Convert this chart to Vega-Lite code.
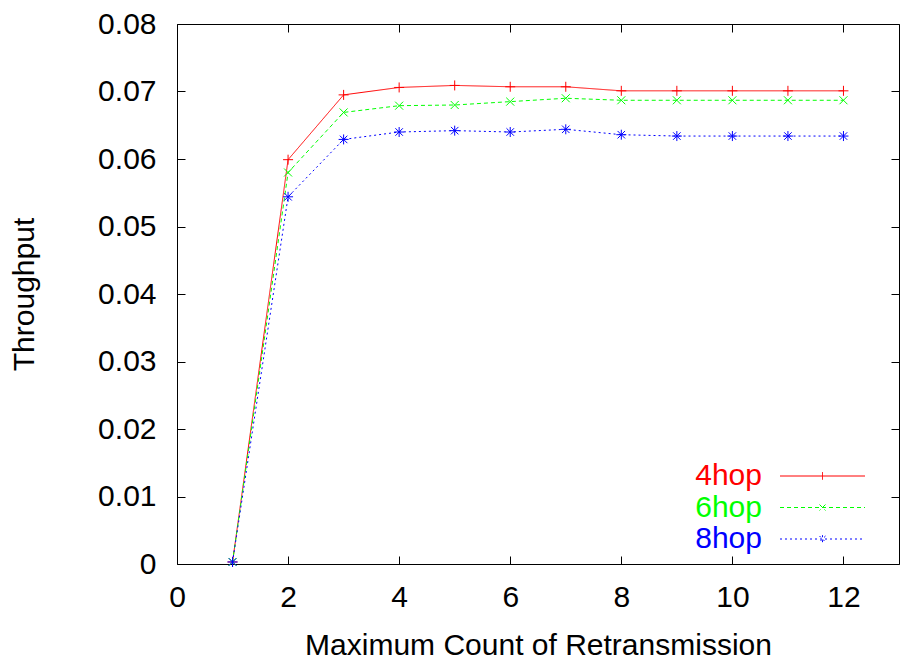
{
  "$schema": "https://vega.github.io/schema/vega-lite/v6.json",
  "width": 722,
  "height": 540,
  "autosize": {"type": "none"},
  "padding": {"left": 177, "top": 24, "right": 1, "bottom": 97},
  "background": "white",
  "config": {
    "font": "Liberation Sans",
    "view": {"stroke": "black", "strokeWidth": 1},
    "axis": {"grid": false, "domain": false, "tickColor": "black", "labelColor": "black", "titleColor": "black", "labelFontSize": 30, "titleFontSize": 30, "titleFontWeight": "normal", "labelFont": "Liberation Sans", "titleFont": "Liberation Sans"}
  },
  "data": {"values": [
    {"count": 1, "throughput": 0.0003, "series": "4hop"},
    {"count": 2, "throughput": 0.0599, "series": "4hop"},
    {"count": 3, "throughput": 0.0695, "series": "4hop"},
    {"count": 4, "throughput": 0.0706, "series": "4hop"},
    {"count": 5, "throughput": 0.0709, "series": "4hop"},
    {"count": 6, "throughput": 0.0707, "series": "4hop"},
    {"count": 7, "throughput": 0.0707, "series": "4hop"},
    {"count": 8, "throughput": 0.0701, "series": "4hop"},
    {"count": 9, "throughput": 0.0701, "series": "4hop"},
    {"count": 10, "throughput": 0.0701, "series": "4hop"},
    {"count": 11, "throughput": 0.0701, "series": "4hop"},
    {"count": 12, "throughput": 0.0701, "series": "4hop"},
    {"count": 1, "throughput": 0.0003, "series": "6hop"},
    {"count": 2, "throughput": 0.0580, "series": "6hop"},
    {"count": 3, "throughput": 0.0669, "series": "6hop"},
    {"count": 4, "throughput": 0.0679, "series": "6hop"},
    {"count": 5, "throughput": 0.0680, "series": "6hop"},
    {"count": 6, "throughput": 0.0685, "series": "6hop"},
    {"count": 7, "throughput": 0.0690, "series": "6hop"},
    {"count": 8, "throughput": 0.0687, "series": "6hop"},
    {"count": 9, "throughput": 0.0687, "series": "6hop"},
    {"count": 10, "throughput": 0.0687, "series": "6hop"},
    {"count": 11, "throughput": 0.0687, "series": "6hop"},
    {"count": 12, "throughput": 0.0687, "series": "6hop"},
    {"count": 1, "throughput": 0.0003, "series": "8hop"},
    {"count": 2, "throughput": 0.0544, "series": "8hop"},
    {"count": 3, "throughput": 0.0629, "series": "8hop"},
    {"count": 4, "throughput": 0.0640, "series": "8hop"},
    {"count": 5, "throughput": 0.0642, "series": "8hop"},
    {"count": 6, "throughput": 0.0640, "series": "8hop"},
    {"count": 7, "throughput": 0.0644, "series": "8hop"},
    {"count": 8, "throughput": 0.0636, "series": "8hop"},
    {"count": 9, "throughput": 0.0634, "series": "8hop"},
    {"count": 10, "throughput": 0.0634, "series": "8hop"},
    {"count": 11, "throughput": 0.0634, "series": "8hop"},
    {"count": 12, "throughput": 0.0634, "series": "8hop"}
  ]},
  "layer": [
    {
      "mark": {"type": "line", "strokeWidth": 1},
      "encoding": {
        "x": {"field": "count", "type": "quantitative", "scale": {"domain": [0, 13], "nice": false, "zero": false},
              "axis": {"orient": "bottom", "values": [0, 2, 4, 6, 8, 10, 12], "tickSize": -8, "labelPadding": 26, "title": "Maximum Count of Retransmission", "titlePadding": 18, "labelFlush": false}},
        "y": {"field": "throughput", "type": "quantitative", "scale": {"domain": [0, 0.08], "nice": false},
              "axis": {"orient": "left", "values": [0, 0.01, 0.02, 0.03, 0.04, 0.05, 0.06, 0.07, 0.08], "tickSize": -8, "labelPadding": 29, "labelExpr": "datum.value == 0 ? '0' : format(datum.value, '.2f')", "title": "Throughput", "titlePadding": 58, "labelFlush": false}},
        "color": {"field": "series", "type": "nominal",
                  "scale": {"domain": ["4hop", "6hop", "8hop"], "range": ["#ff0000", "#00ff00", "#0000ff"]},
                  "legend": {
                    "title": null, "orient": "none", "legendX": 630.5, "legendY": 437,
                    "labelFontSize": 30, "labelAlign": "right", "labelOffset": -75.5, "labelFont": "Liberation Sans",
                    "symbolSize": 400, "symbolStrokeWidth": 1, "rowPadding": 1.5,
                    "encode": {
                      "symbols": {"update": {
                        "shape": {"signal": "datum.value === '4hop' ? 'M-4.25,0H4.25M0,-0.38V0.38' : datum.value === '6hop' ? 'M-4.25,0H4.25M-0.3,-0.3L0.3,0.3M0.3,-0.3L-0.3,0.3' : 'M-4.25,0H4.25M0,-0.38V0.38M-0.3,-0.3L0.3,0.3M0.3,-0.3L-0.3,0.3'"},
                        "strokeDash": {"signal": "datum.value === '4hop' ? [1,0] : datum.value === '6hop' ? [4,3] : [2,3]"},
                        "strokeWidth": {"value": 1},
                        "fill": {"value": "transparent"},
                        "opacity": {"value": 1}
                      }},
                      "labels": {"update": {
                        "fill": {"signal": "datum.value === '4hop' ? '#ff0000' : datum.value === '6hop' ? '#00ff00' : '#0000ff'"}
                      }}
                    }
                  }},
        "strokeDash": {"field": "series", "type": "nominal",
                       "scale": {"domain": ["4hop", "6hop", "8hop"], "range": [[1, 0], [4, 3], [2, 3]]},
                       "legend": null}
      }
    },
    {
      "transform": [{"filter": "datum.series === '4hop'"}],
      "mark": {"type": "point", "filled": false, "size": 100, "strokeWidth": 1, "opacity": 1, "color": "#ff0000", "shape": "M-1,0H1M0,-1V1"},
      "encoding": {
        "x": {"field": "count", "type": "quantitative", "scale": {"domain": [0, 13], "nice": false, "zero": false},
              "axis": {"orient": "top", "values": [0, 2, 4, 6, 8, 10, 12], "tickSize": -8, "labels": false, "title": null}},
        "y": {"field": "throughput", "type": "quantitative", "scale": {"domain": [0, 0.08], "nice": false},
              "axis": {"orient": "right", "values": [0, 0.01, 0.02, 0.03, 0.04, 0.05, 0.06, 0.07, 0.08], "tickSize": -8, "labels": false, "title": null}}
      }
    },
    {
      "transform": [{"filter": "datum.series === '6hop'"}],
      "mark": {"type": "point", "filled": false, "size": 100, "strokeWidth": 1, "opacity": 1, "color": "#00ff00", "shape": "M-0.8,-0.8L0.8,0.8M0.8,-0.8L-0.8,0.8"},
      "encoding": {
        "x": {"field": "count", "type": "quantitative", "axis": null},
        "y": {"field": "throughput", "type": "quantitative", "axis": null}
      }
    },
    {
      "transform": [{"filter": "datum.series === '8hop'"}],
      "mark": {"type": "point", "filled": false, "size": 100, "strokeWidth": 1, "opacity": 1, "color": "#0000ff", "shape": "M-1,0H1M0,-1V1M-0.75,-0.75L0.75,0.75M0.75,-0.75L-0.75,0.75"},
      "encoding": {
        "x": {"field": "count", "type": "quantitative", "axis": null},
        "y": {"field": "throughput", "type": "quantitative", "axis": null}
      }
    }
  ],
  "resolve": {"axis": {"x": "independent", "y": "independent"}}
}
